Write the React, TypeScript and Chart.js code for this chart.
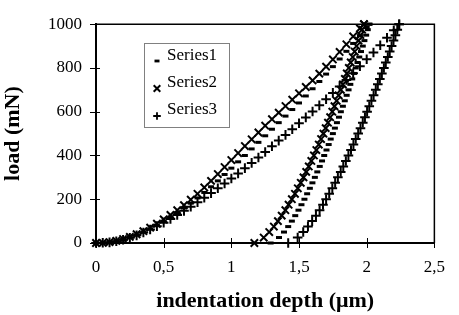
import React, { useEffect, useRef } from 'react';
import { Chart, registerables } from 'chart.js';

Chart.register(...registerables);

const seriesNames = ['Series1', 'Series2', 'Series3'];
const xTickLabels = ['0', '0,5', '1', '1,5', '2', '2,5'];
const yTickLabels = ['0', '200', '400', '600', '800', '1000'];
const xTitle = 'indentation depth (μm)';
const yTitle = 'load (mN)';

// Series1 (dash marker)
const series1LoadDepth = [0, 0.05, 0.1, 0.15, 0.2, 0.25, 0.3, 0.35, 0.4, 0.45, 0.5, 0.55, 0.6, 0.65, 0.7, 0.75, 0.8, 0.85, 0.9, 0.95, 1.0, 1.05, 1.1, 1.15, 1.2, 1.25, 1.3, 1.35, 1.4, 1.45, 1.5, 1.55, 1.6, 1.65, 1.7, 1.75, 1.8, 1.85, 1.9, 1.95, 2.0, 2.02];
const series1LoadForce = [0, 1, 4, 9, 16, 26, 37, 50, 65, 82, 100, 119, 139, 160, 182, 206, 231, 257, 284, 313, 342, 371, 400, 430, 460, 490, 520, 550, 580, 610, 640, 672, 705, 738, 772, 806, 841, 876, 912, 948, 985, 1000];

// Series2 (x marker)
const series2LoadDepth = [0, 0.05, 0.1, 0.15, 0.2, 0.25, 0.3, 0.35, 0.4, 0.45, 0.5, 0.55, 0.6, 0.65, 0.7, 0.75, 0.8, 0.85, 0.9, 0.95, 1.0, 1.05, 1.1, 1.15, 1.2, 1.25, 1.3, 1.35, 1.4, 1.45, 1.5, 1.55, 1.6, 1.65, 1.7, 1.75, 1.8, 1.85, 1.9, 1.95, 1.98];
const series2LoadForce = [0, 1, 4, 10, 18, 28, 40, 54, 70, 88, 108, 128, 150, 173, 198, 225, 254, 284, 315, 347, 379, 411, 443, 474, 505, 536, 566, 596, 626, 655, 684, 713, 743, 774, 806, 839, 873, 908, 944, 981, 1000];

// Series3 (+ marker)
const series3LoadDepth = [0, 0.05, 0.1, 0.15, 0.2, 0.25, 0.3, 0.35, 0.4, 0.45, 0.5, 0.55, 0.6, 0.65, 0.7, 0.75, 0.8, 0.85, 0.9, 0.95, 1.0, 1.05, 1.1, 1.15, 1.2, 1.25, 1.3, 1.35, 1.4, 1.45, 1.5, 1.55, 1.6, 1.65, 1.7, 1.75, 1.8, 1.85, 1.9, 1.95, 2.0, 2.05, 2.1, 2.15, 2.2, 2.24];
const series3LoadForce = [0, 1, 3, 8, 15, 24, 35, 48, 62, 77, 93, 110, 128, 147, 166, 186, 207, 228, 250, 272, 295, 318, 342, 366, 391, 416, 442, 468, 494, 520, 547, 574, 601, 629, 657, 686, 715, 745, 776, 808, 840, 871, 904, 938, 972, 1000];

// unloading: load levels shared by all series
const unloadForce = [0, 25, 50, 75, 100, 125, 150, 175, 200, 225, 250, 275, 300, 325, 350, 375, 400, 425, 450, 475, 500, 525, 550, 575, 600, 625, 650, 675, 700, 725, 750, 775, 800, 825, 850, 875, 900, 925, 950, 975, 1000];
const series1UnloadDepth = [1.290, 1.352, 1.389, 1.420, 1.447, 1.472, 1.496, 1.518, 1.540, 1.560, 1.580, 1.599, 1.617, 1.635, 1.653, 1.670, 1.686, 1.703, 1.719, 1.734, 1.750, 1.765, 1.780, 1.795, 1.809, 1.824, 1.838, 1.852, 1.866, 1.879, 1.893, 1.906, 1.919, 1.932, 1.945, 1.958, 1.971, 1.983, 1.996, 2.008, 2.020];
const series2UnloadDepth = [1.170, 1.239, 1.280, 1.314, 1.344, 1.372, 1.399, 1.423, 1.447, 1.470, 1.491, 1.513, 1.533, 1.553, 1.572, 1.591, 1.610, 1.628, 1.646, 1.663, 1.680, 1.697, 1.714, 1.730, 1.746, 1.762, 1.778, 1.793, 1.809, 1.824, 1.839, 1.853, 1.868, 1.882, 1.897, 1.911, 1.925, 1.939, 1.953, 1.966, 1.980];
const series3UnloadDepth = [1.420, 1.490, 1.531, 1.566, 1.597, 1.625, 1.652, 1.677, 1.700, 1.723, 1.746, 1.767, 1.787, 1.808, 1.827, 1.846, 1.865, 1.884, 1.902, 1.919, 1.937, 1.954, 1.971, 1.987, 2.003, 2.019, 2.035, 2.051, 2.067, 2.082, 2.097, 2.112, 2.127, 2.141, 2.156, 2.170, 2.184, 2.198, 2.212, 2.226, 2.240];

const FONT = '"Liberation Serif", "Times New Roman", serif';

function pts(xs: number[], ys: number[]) {
  return xs.map((x, i) => ({ x, y: ys[i] }));
}

function drawMarker(ctx: CanvasRenderingContext2D, kind: number, x: number, y: number) {
  ctx.beginPath();
  if (kind === 0) {
    ctx.lineWidth = 2.8;
    ctx.moveTo(x - 2.5, y);
    ctx.lineTo(x + 2.5, y);
  } else if (kind === 1) {
    ctx.lineWidth = 2;
    ctx.moveTo(x - 3.3, y - 3.3);
    ctx.lineTo(x + 3.3, y + 3.3);
    ctx.moveTo(x + 3.3, y - 3.3);
    ctx.lineTo(x - 3.3, y + 3.3);
  } else {
    ctx.lineWidth = 1.8;
    ctx.moveTo(x - 3.8, y);
    ctx.lineTo(x + 3.8, y);
    ctx.moveTo(x, y - 3.8);
    ctx.lineTo(x, y + 3.8);
  }
  ctx.stroke();
}

const framePlugin = {
  id: 'frameAndLegend',
  beforeDatasetsDraw(chart: any) {
    const { ctx, chartArea: a, scales } = chart;
    ctx.save();
    ctx.strokeStyle = '#000';
    ctx.lineWidth = 1.5;
    ctx.beginPath();
    ctx.moveTo(a.left, a.top);
    ctx.lineTo(a.right, a.top);
    ctx.lineTo(a.right, a.bottom);
    ctx.stroke();
    ctx.lineWidth = 1;
    ctx.beginPath();
    scales.x.ticks.forEach((t: any) => {
      const px = Math.round(scales.x.getPixelForValue(t.value)) + 0.5;
      ctx.moveTo(px, a.bottom - 5);
      ctx.lineTo(px, a.bottom + 5);
    });
    scales.y.ticks.forEach((t: any) => {
      const py = Math.round(scales.y.getPixelForValue(t.value)) + 0.5;
      ctx.moveTo(a.left - 6, py);
      ctx.lineTo(a.left + 4, py);
    });
    ctx.stroke();
    ctx.restore();
  },
  afterDraw(chart: any) {
    const { ctx } = chart;
    ctx.save();
    ctx.fillStyle = '#fff';
    ctx.fillRect(144.5, 43.5, 85, 84);
    ctx.strokeStyle = '#808080';
    ctx.lineWidth = 1;
    ctx.strokeRect(144.5, 43.5, 85, 84);
    ctx.fillStyle = '#000';
    ctx.strokeStyle = '#000';
    ctx.font = '17px ' + FONT;
    ctx.textBaseline = 'middle';
    ctx.textAlign = 'left';
    seriesNames.forEach((name, i) => {
      ctx.fillText(name, 167, 56 + 27 * i);
      drawMarker(ctx, i, 157, 61 + 27.5 * i);
    });
    ctx.restore();
  },
};

export default function App() {
  const ref = useRef<HTMLCanvasElement | null>(null);
  useEffect(() => {
    if (!ref.current) return;
    const common = {
      showLine: false,
      borderColor: '#000',
      backgroundColor: '#000',
      clip: false as any,
    };
    const chart = new Chart(ref.current, {
      type: 'scatter',
      data: {
        datasets: [
          {
            ...common,
            label: seriesNames[0],
            data: [...pts(series1LoadDepth, series1LoadForce), ...pts(series1UnloadDepth, unloadForce)],
            pointStyle: 'line',
            pointRadius: 3,
            pointBorderWidth: 3,
          },
          {
            ...common,
            label: seriesNames[1],
            data: [...pts(series2LoadDepth, series2LoadForce), ...pts(series2UnloadDepth, unloadForce)],
            pointStyle: 'crossRot',
            pointRadius: 5.2,
            pointBorderWidth: 2,
          },
          {
            ...common,
            label: seriesNames[2],
            data: [...pts(series3LoadDepth, series3LoadForce), ...pts(series3UnloadDepth, unloadForce)],
            pointStyle: 'cross',
            pointRadius: 4.8,
            pointBorderWidth: 2,
          },
        ],
      },
      options: {
        animation: false,
        responsive: false,
        events: [],
        layout: { padding: { top: 20, right: 13, bottom: 0, left: 0 } },
        plugins: { legend: { display: false }, tooltip: { enabled: false } },
        scales: {
          x: {
            type: 'linear',
            min: 0,
            max: 2.5,
            afterFit: (s: any) => { s.height = 72; },
            grid: { display: false, drawTicks: false },
            border: { display: true, color: '#000', width: 2 },
            ticks: {
              stepSize: 0.5,
              padding: 14,
              color: '#000',
              font: { family: FONT, size: 17 },
              callback: (_v: any, i: number) => xTickLabels[i],
            },
            title: {
              display: true,
              text: xTitle,
              color: '#000',
              font: { family: FONT, size: 22, weight: 'bold' },
              padding: { top: 0, bottom: 0 },
            },
          },
          y: {
            type: 'linear',
            min: 0,
            max: 1000,
            afterFit: (s: any) => { s.width = 96; },
            grid: { display: false, drawTicks: false },
            border: { display: true, color: '#000', width: 2 },
            ticks: {
              stepSize: 200,
              padding: 14,
              color: '#000',
              font: { family: FONT, size: 17 },
              callback: (_v: any, i: number) => yTickLabels[i],
            },
            title: {
              display: true,
              text: yTitle,
              color: '#000',
              font: { family: FONT, size: 22, weight: 'bold' },
              padding: { top: 0, bottom: 0 },
            },
          },
        },
      },
      plugins: [framePlugin],
    });
    return () => chart.destroy();
  }, []);
  return (
    <div style={{ position: 'absolute', left: 0, top: 0, width: 459, height: 315, background: '#fff' }}>
      <canvas ref={ref} width={459} height={315} style={{ display: 'block' }} />
    </div>
  );
}
